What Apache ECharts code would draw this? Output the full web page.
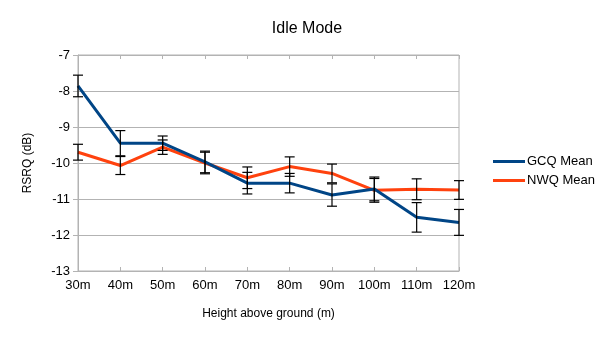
<!DOCTYPE html>
<html>
<head>
<meta charset="utf-8">
<script src="https://cdn.jsdelivr.net/npm/echarts@6/dist/echarts.min.js"></script>
<style>
html,body{margin:0;padding:0;background:#fff;}
#chart{width:605px;height:340px;}
</style>
</head>
<body>
<div id="chart"></div>
<script>
// values
let heights=['30m','40m','50m','60m','70m','80m','90m','100m','110m','120m'];
let gcqMean=[-7.86,-9.45,-9.45,-9.97,-10.56,-10.56,-10.89,-10.72,-11.51,-11.65];
let gcqErr=[0.3,0.35,0.2,0.3,0.3,0.27,0.31,0.33,0.41,0.36];
let nwqMean=[-9.7,-10.07,-9.56,-10.0,-10.41,-10.1,-10.29,-10.76,-10.73,-10.75];
let nwqErr=[0.22,0.25,0.2,0.3,0.3,0.27,0.26,0.33,0.29,0.26];

window.addEventListener("load",function () {
    let chart=echarts.init(document.getElementById("chart"));
    let font='"Liberation Sans", Arial, sans-serif';

    function errorSeries(name,means,errs){
        let rows=means.map((m,i)=>[i,m-errs[i],m+errs[i]]);
        return {
            name:name+' err',
            type:'custom',
            z:5,
            silent:true,
            data:rows,
            renderItem:function (params,api) {
                let lo=api.coord([api.value(0),api.value(1)]);
                let hi=api.coord([api.value(0),api.value(2)]);
                let w=5;
                let style={stroke:'#000',lineWidth:1.2};
                return {
                    type:'group',
                    children:[
                        {type:'line',shape:{x1:lo[0],y1:lo[1],x2:hi[0],y2:hi[1]},style},
                        {type:'line',shape:{x1:lo[0]-w,y1:lo[1],x2:lo[0]+w,y2:lo[1]},style},
                        {type:'line',shape:{x1:hi[0]-w,y1:hi[1],x2:hi[0]+w,y2:hi[1]},style}
                    ]
                };
            }
        };
    }

    let option={
        backgroundColor:'#fff',
        animation:false,
        textStyle:{fontFamily:font},
        title:{
            text:'Idle Mode',
            left:302,
            textAlign:'center',
            top:16,
            textStyle:{fontFamily:font,fontSize:16,fontWeight:'normal',color:'#000'}
        },
        legend:{
            orient:'vertical',
            left:488,
            top:150,
            itemWidth:32,
            itemHeight:3,
            itemGap:6,
            icon:'rect',
            textStyle:{fontFamily:font,fontSize:13,color:'#000',padding:[0,0,0,-3]},
            data:['GCQ Mean','NWQ Mean']
        },
        grid:{
            left:78,right:146,top:55,bottom:69,
            show:true,borderColor:'#b3b3b3',borderWidth:1
        },
        xAxis:[{
            type:'category',
            data:heights,
            boundaryGap:false,
            name:'Height above ground (m)',
            nameLocation:'middle',
            nameGap:37,
            nameTextStyle:{fontFamily:font,fontSize:12,color:'#000'},
            axisLine:{lineStyle:{color:'#b3b3b3'}},
            axisTick:{show:true,inside:true,length:4,lineStyle:{color:'#b3b3b3'}},
            axisLabel:{fontFamily:font,fontSize:13,color:'#000',margin:8},
            splitLine:{show:false}
        },{
            type:'category',
            data:heights,
            boundaryGap:false,
            position:'top',
            axisLine:{lineStyle:{color:'#b3b3b3'}},
            axisTick:{show:true,inside:true,length:4,lineStyle:{color:'#b3b3b3'}},
            axisLabel:{show:false},
            splitLine:{show:false}
        }],
        yAxis:{
            type:'value',
            min:-13,max:-7,interval:1,
            name:'RSRQ (dB)',
            nameLocation:'middle',
            nameGap:44,
            nameTextStyle:{fontFamily:font,fontSize:12,color:'#000'},
            axisLine:{show:true,lineStyle:{color:'#b3b3b3'}},
            axisTick:{show:true,length:5,lineStyle:{color:'#b3b3b3'}},
            axisLabel:{fontFamily:font,fontSize:13,color:'#000',margin:8},
            splitLine:{lineStyle:{color:'#b3b3b3'}}
        },
        series:[
            {
                name:'GCQ Mean',type:'line',data:gcqMean,
                symbol:'none',color:'#004586',z:3,
                lineStyle:{width:3,color:'#004586'}
            },
            {
                name:'NWQ Mean',type:'line',data:nwqMean,
                symbol:'none',color:'#ff420e',z:2,
                lineStyle:{width:3,color:'#ff420e'}
            },
            errorSeries('GCQ',gcqMean,gcqErr),
            errorSeries('NWQ',nwqMean,nwqErr)
        ]
    };
    chart.setOption(option);
});
</script>
</body>
</html>
